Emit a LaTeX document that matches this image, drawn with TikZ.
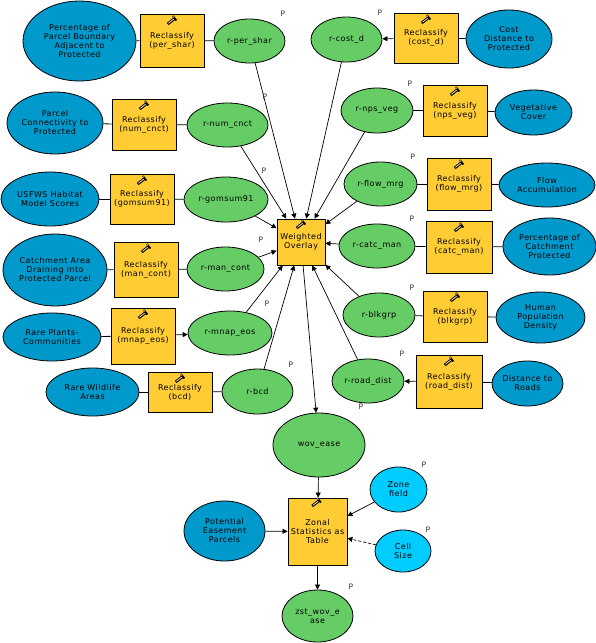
\documentclass[tikz,border=0pt]{standalone}
\usepackage{fontspec}
\setmainfont[LetterSpace=6]{DejaVu Sans}
\usetikzlibrary{shapes.geometric,arrows.meta}
\definecolor{srcblue}{HTML}{0099CC}
\definecolor{resgreen}{HTML}{66CC66}
\definecolor{toolyellow}{HTML}{FFCC33}
\definecolor{parcyan}{HTML}{00CCFF}
\tikzset{
 base/.style={draw=black,line width=0.8pt,inner sep=0pt,align=center,text=black,font=\fontsize{8}{9}\selectfont},
 srcell/.style={base,ellipse,fill=srcblue},
 resell/.style={base,ellipse,fill=resgreen},
 parell/.style={base,ellipse,fill=parcyan},
 toolbox/.style={base,rectangle,fill=toolyellow},
 plainlink/.style={draw=black,line width=0.8pt},
 arrlink/.style={draw=black,line width=0.7pt,-{Triangle[length=5pt,width=5pt]}},
 plabel/.style={inner sep=0pt,text=black!80,font=\fontsize{7.5}{9}\selectfont},
}
\newcommand\shp[7]{\node[#6,minimum width=\fpeval{#3-#2}pt,minimum height=\fpeval{#5-#4}pt] (#1) at ({(#2+#3)/2},{(#4+#5)/2}) {#7};}
\newcommand\hammericon[3]{%
 \begin{scope}[shift={(#1.north)},xshift=#2pt,yshift=-#3pt,rotate=38]
  \fill[black] (-5.5,-1.4) rectangle (3,1.4);
  \fill[white!55!toolyellow] (-4.5,-.5) rectangle (2.2,.3);
  \fill[black] (2.6,-3.2) rectangle (4.4,2.6);
  \fill[white!70!black] (3,-3.2) rectangle (3.8,-1.2);
 \end{scope}}
\begin{document}
\begin{tikzpicture}[x=1pt,y=-1pt]
\useasboundingbox (0,0) rectangle (596,643);
\fill[white] (0,0) rectangle (596,643);
% left column
\shp{sA}{23}{136}{1}{81}{srcell}{Percentage of\\Parcel Boundary\\Adjacent to\\Protected}
\shp{tA}{140}{204}{14}{67}{toolbox}{Reclassify\\(per\_shar)}
\shp{rA}{214}{285}{19}{63}{resell}{r-per\_shar}
\shp{sB}{7}{103}{92}{154}{srcell}{Parcel\\Connectivity to\\Protected}
\shp{tB}{112}{176}{99}{150}{toolbox}{Reclassify\\(num\_cnct)}
\shp{rB}{187}{268}{103}{147}{resell}{r-num\_cnct}
\shp{sC}{1}{99}{172}{226}{srcell}{USFWS Habitat\\Model Scores}
\shp{tC}{110}{174}{174}{224}{toolbox}{Reclassify\\(gomsum91)}
\shp{rC}{184}{268}{177}{222}{resell}{r-gomsum91}
\shp{sD}{3}{107}{234}{306}{srcell}{Catchment Area\\Draining into\\Protected Parcel}
\shp{tD}{114}{178}{242}{297}{toolbox}{Reclassify\\(man\_cont)}
\shp{rD}{187}{264}{247}{291}{resell}{r-man\_cont}
\shp{sE}{3}{101}{313}{361}{srcell}{Rare Plants-\\Communities}
\shp{tE}{111}{175}{308}{364}{toolbox}{Reclassify\\(mnap\_eos)}
\shp{rE}{188}{272}{311}{355}{resell}{r-mnap\_eos}
\shp{sF}{46}{139}{368}{416}{srcell}{Rare Wildlife\\Areas}
\shp{tF}{148}{212}{372}{412}{toolbox}{Reclassify\\(bcd)}
\shp{rF}{222}{293}{369}{414}{resell}{r-bcd}
% right column
\shp{rG}{311}{382}{17}{62}{resell}{r-cost\_d}
\shp{tG}{394}{458}{13}{63}{toolbox}{Reclassify\\(cost\_d)}
\shp{sG}{466}{552}{10}{68}{srcell}{Cost\\Distance to\\Protected}
\shp{rH}{341}{413}{88}{133}{resell}{r-nps\_veg}
\shp{tH}{423}{487}{85}{136}{toolbox}{Reclassify\\(nps\_veg)}
\shp{sH}{495}{572}{90}{135}{srcell}{Vegetative\\Cover}
\shp{rI}{344}{417}{162}{206}{resell}{r-flow\_mrg}
\shp{tI}{427}{491}{158}{210}{toolbox}{Reclassify\\(flow\_mrg)}
\shp{sI}{499}{595}{163}{207}{srcell}{Flow\\Accumulation}
\shp{rJ}{339}{415}{224}{268}{resell}{r-catc\_man}
\shp{tJ}{426}{492}{221}{273}{toolbox}{Reclassify\\(catc\_man)}
\shp{sJ}{503}{596}{218}{275}{srcell}{Percentage of\\Catchment\\Protected}
\shp{rK}{343}{415}{293}{337}{resell}{r-blkgrp}
\shp{tK}{423}{487}{291}{342}{toolbox}{Reclassify\\(blkgrp)}
\shp{sK}{496}{585}{292}{343}{srcell}{Human\\Population\\Density}
\shp{rL}{332}{404}{359}{403}{resell}{r-road\_dist}
\shp{tL}{416}{482}{355}{408}{toolbox}{Reclassify\\(road\_dist)}
\shp{sL}{492}{563}{361}{406}{srcell}{Distance to\\Roads}
% centre
\shp{wo}{277}{325}{219}{265}{toolbox}{Weighted\\Overlay}
\shp{wov}{273}{365}{413}{477}{resell}{wov\_ease}
\shp{zs}{288}{347}{498}{565}{toolbox}{Zonal\\Statistics as\\Table}
\shp{zf}{370}{427}{467}{512}{parell}{Zone\\field}
\shp{cs}{375}{431}{530}{572}{parell}{Cell\\Size}
\shp{pp}{184}{265}{501}{561}{srcell}{Potential\\Easement\\Parcels}
\shp{zo}{282}{353}{590}{642}{resell}{zst\_wov\_e\\ase}
% source to tool
\foreach \a/\b in {sA/tA,sB/tB,sC/tC,sD/tD,sE/tE,sF/tF,sG/tG,sH/tH,sI/tI,sJ/tJ,sK/tK,sL/tL}{
 \draw[plainlink] (\a) -- (\b);
}
% tool to result, plain
\foreach \b/\c in {tA/rA,tB/rB,tC/rC,tD/rD,tF/rF,tH/rH,tI/rI,tJ/rJ,tK/rK}{
 \draw[plainlink] (\b) -- (\c);
}
% tool to result, with arrowhead
\foreach \b/\c in {tE/rE,tG/rG,tL/rL}{
 \draw[arrlink] (\b) -- (\c);
}
% into overlay
\foreach \r in {rA,rB,rC,rD,rE,rF,rG,rH,rI,rJ,rK,rL}{
 \draw[arrlink] (\r) -- (wo);
}
\draw[arrlink] (wo) -- (wov);
\draw[arrlink] (wov) -- (zs);
\draw[arrlink] (pp) -- (zs);
\draw[arrlink] (zf) -- (zs);
\draw[arrlink,dash pattern=on 3pt off 2pt] (cs) -- (zs);
\draw[arrlink] (zs) -- (zo);
% tool icons
\foreach \t in {tA,tB,tC,tD,tE,tF,tG,tH,tI,tJ,tK,tL}{\hammericon{\t}{0}{7}}
\hammericon{wo}{0}{6}
\hammericon{zs}{-1}{5}
% P labels
\foreach \n/\x/\y in {pa/283/14,pb/265/97,pc/264/171,pd/261/240,pe/267/304,pf/291/365,pg/380/13,ph/410/84,pi/413/157,pj/412/219,pk/412/288,pl/402/354,pq/361/407,pm/424/465,pn/428/530,po/351/587}{
 \node[plabel] (\n) at (\x,\y) {P};
}
\end{tikzpicture}
\end{document}
